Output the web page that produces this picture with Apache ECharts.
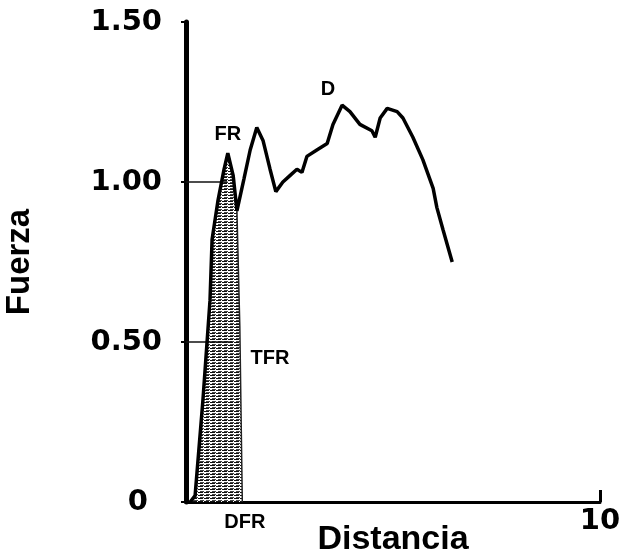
<!DOCTYPE html>
<html>
<head>
<meta charset="utf-8">
<script src="https://cdn.jsdelivr.net/npm/echarts@6/dist/echarts.min.js"></script>
<style>
    html, body { margin: 0; padding: 0; background: #fff; }
    #chartMain { width: 633px; height: 552px; }
</style>
</head>
<body>
<div id="chartMain"></div>
<script>
    // curva fuerza / distancia
    let distancia = [0.10, 0.22, 0.41, 0.58, 0.63, 0.77, 0.92, 1.01, 1.14, 1.23, 1.40, 1.55, 1.71, 1.86, 2.03, 2.17, 2.34, 2.51, 2.68, 2.80, 2.92, 3.16, 3.41, 3.55, 3.77, 3.96, 4.20, 4.49, 4.57, 4.69, 4.86, 5.10, 5.24, 5.48, 5.72, 5.97, 6.06, 6.21, 6.43];
    let fuerza = [0.00, 0.02, 0.32, 0.63, 0.82, 0.94, 1.04, 1.09, 1.02, 0.91, 1.01, 1.10, 1.17, 1.13, 1.04, 0.97, 1.00, 1.02, 1.04, 1.03, 1.08, 1.10, 1.12, 1.18, 1.24, 1.22, 1.18, 1.16, 1.14, 1.20, 1.23, 1.22, 1.20, 1.14, 1.07, 0.98, 0.92, 0.85, 0.75];

    // zona rayada (trabajo hasta DFR)
    let rayadoX = [0.15, 0.22, 0.41, 0.58, 0.63, 0.77, 0.92, 1.01, 1.14, 1.23, 1.30, 1.36];
    let rayadoY = [0.00, 0.02, 0.32, 0.63, 0.82, 0.94, 1.04, 1.09, 1.02, 0.91, 0.55, 0.00];

    // lineas de referencia horizontales
    let lineaFR = [[0, 1.00], [1.00, 1.00]];
    let lineaTFR = [[0, 0.50], [1.11, 0.50]];

    // etiquetas
    let etiquetas = [
        { name: 'FR', value: [1.01, 1.15] },
        { name: 'D', value: [3.43, 1.29] },
        { name: 'TFR', value: [2.03, 0.45] },
        { name: 'DFR', value: [1.42, -0.065] }
    ];

    let toPairs = (xs, ys) => xs.map((x, i) => [x, ys[i]]);

    // patron de rayas horizontales
    let pat = document.createElement('canvas');
    pat.width = 6; pat.height = 3;
    let ctx = pat.getContext('2d');
    ctx.fillStyle = '#fff';
    ctx.fillRect(0, 0, 6, 3);
    ctx.fillStyle = '#111';
    ctx.fillRect(0, 0, 5, 1);
    ctx.fillStyle = '#444';
    ctx.fillRect(2, 2, 4, 1);

    let myChart = echarts.init(document.getElementById('chartMain'));
    let heavy = { fontFamily: 'DejaVu Sans', fontWeight: 'bold', color: '#000' };

    myChart.setOption({
        animation: false,
        grid: { left: 186, right: 33, top: 22, bottom: 50, containLabel: false, outerBoundsMode: 'none' },
        xAxis: {
            type: 'value',
            min: 0, max: 10, interval: 10,
            name: 'Distancia',
            nameLocation: 'middle',
            nameGap: 21,
            nameMoveOverlap: false,
            nameTextStyle: { fontFamily: 'Liberation Sans', fontWeight: 'bold', fontSize: 34, color: '#000' },
            axisLine: { lineStyle: { color: '#000', width: 3 } },
            axisTick: { inside: true, length: 12, lineStyle: { color: '#000', width: 3 } },
            axisLabel: Object.assign({ fontSize: 29, margin: 5, formatter: v => v === 10 ? '10' : '' }, heavy),
            splitLine: { show: false }
        },
        yAxis: {
            type: 'value',
            min: 0, max: 1.5, interval: 0.5,
            name: 'Fuerza',
            nameLocation: 'middle',
            nameRotate: 90,
            nameGap: 150,
            nameMoveOverlap: false,
            nameTextStyle: { fontFamily: 'Liberation Sans', fontWeight: 'bold', fontSize: 33, color: '#000' },
            axisLine: { lineStyle: { color: '#000', width: 5 } },
            axisTick: { length: 5, lineStyle: { color: '#000', width: 2 } },
            axisLabel: Object.assign({
                fontSize: 29, margin: 24,
                formatter: v => v === 0 ? '{z|0}' : v.toFixed(2),
                rich: { z: Object.assign({ fontSize: 29, padding: [0, 14, 0, 0] }, heavy) }
            }, heavy),
            splitLine: { show: false }
        },
        series: [
            {
                name: 'rayado',
                type: 'line',
                data: toPairs(rayadoX, rayadoY),
                symbol: 'none',
                lineStyle: { color: '#222', width: 1.5 },
                areaStyle: { color: { image: pat, repeat: 'repeat' }, opacity: 1 },
                z: 1
            },
            {
                name: 'FR',
                type: 'line',
                data: lineaFR,
                symbol: 'none',
                lineStyle: { color: '#111', width: 1.5 }
            },
            {
                name: 'TFR',
                type: 'line',
                data: lineaTFR,
                symbol: 'none',
                lineStyle: { color: '#111', width: 1.5 }
            },
            {
                name: 'fuerza',
                type: 'line',
                data: toPairs(distancia, fuerza),
                symbol: 'none',
                lineStyle: { color: '#000', width: 3.5 },
                z: 3
            },
            {
                name: 'etiquetas',
                type: 'scatter',
                data: etiquetas,
                symbolSize: 1,
                itemStyle: { color: 'rgba(0,0,0,0)', opacity: 1 },
                clip: false,
                label: {
                    show: true,
                    position: 'inside',
                    formatter: p => p.name,
                    fontFamily: 'Liberation Sans',
                    fontWeight: 'bold',
                    fontSize: 20,
                    color: '#000',
                    opacity: 1,
                    textBorderWidth: 0
                },
                z: 4
            }
        ]
    });
</script>
</body>
</html>
